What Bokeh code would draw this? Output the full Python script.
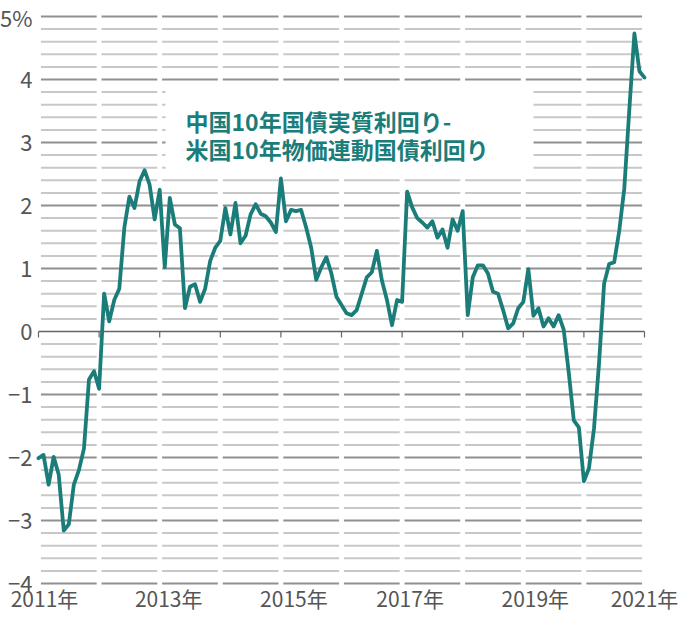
from bokeh.plotting import figure
from bokeh.models import Range1d, ColumnDataSource
from bokeh.core.properties import value
from bokeh.embed import file_html
from bokeh.resources import INLINE

# ---------------- data (monthly, Jan 2011 - Jan 2021, %) ----------------
START_YEAR = 2011
y2011 = [-2.01, -1.96, -2.43, -1.99, -2.27, -3.16, -3.06, -2.43, -2.20, -1.86, -0.76, -0.63]
y2012 = [-0.91, 0.60, 0.16, 0.50, 0.68, 1.65, 2.14, 1.96, 2.38, 2.56, 2.33, 1.78]
y2013 = [2.25, 1.02, 2.12, 1.70, 1.64, 0.37, 0.71, 0.75, 0.47, 0.68, 1.12, 1.33]
y2014 = [1.44, 1.96, 1.54, 2.04, 1.40, 1.52, 1.86, 2.02, 1.87, 1.83, 1.73, 1.58]
y2015 = [2.43, 1.75, 1.93, 1.91, 1.93, 1.65, 1.33, 0.82, 1.02, 1.18, 0.92, 0.55]
y2016 = [0.42, 0.29, 0.26, 0.34, 0.60, 0.86, 0.94, 1.28, 0.81, 0.50, 0.10, 0.50]
y2017 = [0.47, 2.22, 1.97, 1.80, 1.73, 1.65, 1.75, 1.49, 1.62, 1.33, 1.78, 1.60]
y2018 = [1.91, 0.26, 0.86, 1.05, 1.05, 0.92, 0.63, 0.60, 0.34, 0.05, 0.13, 0.37]
y2019 = [0.47, 0.99, 0.25, 0.37, 0.08, 0.21, 0.08, 0.26, 0.03, -0.65, -1.41, -1.52]
y2020 = [-2.38, -2.17, -1.54, -0.50, 0.76, 1.07, 1.10, 1.60, 2.27, 3.53, 4.73, 4.13]
y2021 = [4.03]

y_ticks = [-4, -3, -2, -1, 0, 1, 2, 3, 4, 5]
y_tick_labels = ["−4", "−3", "−2", "−1", "0", "1", "2", "3", "4", "5%"]
x_tick_years = [2011, 2013, 2015, 2017, 2019, 2021]
x_tick_labels = ["2011年", "2013年", "2015年", "2017年", "2019年", "2021年"]
grid_years = list(range(2011, 2021))
title_lines = ["中国10年国債実質利回り-", "米国10年物価連動国債利回り"]

yields = y2011 + y2012 + y2013 + y2014 + y2015 + y2016 + y2017 + y2018 + y2019 + y2020 + y2021
xs = [START_YEAR + i / 12 for i in range(len(yields))]

# ---------------- styling / layout ----------------
TEAL = "#1b7d79"
LABEL = "#555555"
FONT = value("Noto Sans CJK JP")
W, H = 679, 614
PX_YEAR = 60.6     # pixels per year
X0 = 38            # pixel of 2011
PX_UNIT = 63.0     # pixels per 1 %
Y0 = 331.0         # pixel of 0 %


def dx(px):
    return 2011 + (px - X0) / PX_YEAR


def dy(py):
    return (Y0 - py) / PX_UNIT


p = figure(width=W, height=H, output_backend="svg", toolbar_location=None,
           x_range=Range1d(dx(0), dx(W)), y_range=Range1d(dy(H), dy(0)),
           min_border=0, min_border_left=0, min_border_right=0,
           min_border_top=0, min_border_bottom=0)
p.axis.visible = False
p.xgrid.visible = False
p.ygrid.visible = False
p.outline_line_color = None
p.background_fill_color = "white"
p.border_fill_color = "white"

# segmented horizontal grid (broken at each year boundary)
gap = 0.04
gx0, gx1, gy, gc = [], [], [], []
for k in range(-20, 26):
    if k == 0:
        continue
    lvl = k / 5
    for yr in grid_years:
        gx0.append(yr + gap)
        gx1.append(yr + 1 - gap)
        gy.append(lvl)
        gc.append("#909090" if k % 5 == 0 else "#c8c8c8")
p.segment(x0=gx0, x1=gx1, y0=gy, y1=gy, line_color=gc, line_width=2)

# zero line with year ticks
p.segment(x0=[grid_years[0]], x1=[grid_years[-1] + 1], y0=[0], y1=[0],
          line_color="#666666", line_width=1.5)
tick_years = grid_years + [grid_years[-1] + 1]
p.segment(x0=tick_years, x1=tick_years, y0=[0] * len(tick_years),
          y1=[-6 / PX_UNIT] * len(tick_years), line_color="#666666", line_width=1.2)

# white box behind annotation
p.quad(left=[dx(165)], right=[dx(533)], bottom=[dy(176)], top=[dy(86)],
       fill_color="white", line_color=None)

# data line
src = ColumnDataSource(dict(x=xs, y=yields))
p.line("x", "y", source=src, line_color=TEAL, line_width=3.8,
       line_join="round", line_cap="round")

# annotation
p.text(x=[dx(185), dx(185)], y=[dy(120), dy(148)], text=title_lines,
       text_font=FONT, text_font_style="bold", text_font_size="23px",
       text_color=TEAL, text_align="left", text_baseline="middle")

# y tick labels
p.text(x=[2011] * len(y_ticks), y=y_ticks, text=y_tick_labels, x_offset=-6,
       text_font=FONT, text_font_size="22px", text_color=LABEL,
       text_align="right", text_baseline="middle")

# x tick labels
p.text(x=x_tick_years, y=[-4] * len(x_tick_years), text=x_tick_labels,
       x_offset=[6, 9, 13, 8, 12, 0], y_offset=14,
       text_font=FONT, text_font_size="21px", text_color=LABEL,
       text_align="center", text_baseline="middle")

open("out.html", "w").write(file_html(p, INLINE))
